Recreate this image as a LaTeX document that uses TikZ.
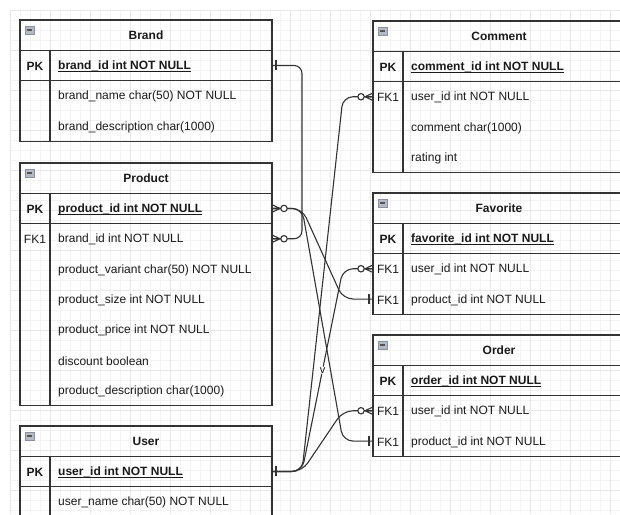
\documentclass[tikz,border=0pt]{standalone}
\usepackage{fontspec}
\setmainfont{Liberation Sans}

\definecolor{ink}{HTML}{333333}
\definecolor{txt}{HTML}{1A1A1A}
\definecolor{gridminor}{HTML}{F3F3F3}
\definecolor{gridmajor}{HTML}{E8E8E8}
\definecolor{iconfill}{HTML}{B4B9C6}
\definecolor{iconedge}{HTML}{8A90A0}
\definecolor{icondash}{HTML}{555555}

% row height of an entity table
\newcommand\erh{30.3}
% underlined primary-key field
\newcommand\ulpk[1]{\setbox0=\hbox{#1}\rlap{\rule[-2pt]{\wd0}{0.9pt}}\box0}

\tikzset{
  tbl/.style={draw=ink, line width=1.2pt},
  tblframe/.style={tbl, minimum width=252pt, inner sep=0pt, outer sep=0pt},
  hdrbox/.style={minimum width=252pt, minimum height=\erh pt, inner sep=0pt, outer sep=0pt,
    font=\fontsize{12}{14}\selectfont\bfseries, text=txt},
  rowbox/.style={minimum width=252pt, minimum height=\erh pt, inner sep=0pt, outer sep=0pt},
  keytxt/.style={inner sep=0pt, text=txt},
  fldtxt/.style={inner sep=0pt, anchor=west, text=txt},
  icon/.style={draw=iconedge, fill=iconfill, line width=0.6pt, minimum width=9pt,
    minimum height=8pt, inner sep=0pt,
    path picture={\draw[line width=1.2pt, draw=icondash]
      ([xshift=1.8pt]path picture bounding box.west) --
      ([xshift=-1.8pt]path picture bounding box.east);}},
  rel/.style={draw=ink, line width=1.1pt, rounded corners=10pt},
  cardline/.style={draw=ink, line width=1.1pt},
  lbl/.style={fill=white, inner sep=0.6pt, text=txt, font=\fontsize{11}{13}\selectfont},
  zmany/.pic={
    \draw[cardline] (0,-3.8) -- (8,0) -- (0,3.8) (0,0) -- (8,0);
    \draw[cardline, fill=white] (12,0) circle[radius=3.2pt];},
  oneline/.pic={\draw[cardline] (4,-5) -- (4,5);}
}

% frame of a table: name, left, top, number of rows (header included)
\newcommand\erframe[4]{%
  \node[tblframe, minimum height=#4*\erh] (#1) at ({#2+126},{#3+#4*\erh/2}) {};}
% header of a table: name, left, top, title
\newcommand\erhead[4]{%
  \node[hdrbox] (#1-h) at ({#2+126},{#3+\erh/2}) {#4};
  \node[icon] (#1-ic) at ({#2+9.5},{#3+10}) {};}
% one row: name, left, top of table, row index, key, field
\newcommand\errow[6]{%
  \node[rowbox] (#1) at ({#2+126},{#3+(#4+0.5)*\erh}) {};
  \node[keytxt] (#1-k) at ({#2+15},{#3+(#4+0.5)*\erh+1}) {#5};
  \node[fldtxt] (#1-f) at ({#2+38},{#3+(#4+0.5)*\erh+1}) {#6};}
% inner rules: table name, key row name
\newcommand\errules[2]{%
  \draw[tbl] (#1-h.south west) -- (#1-h.south east);
  \draw[tbl] (#2.south west) -- (#2.south east);
  \draw[tbl] ([xshift=30pt]#1-h.south west) -- ([xshift=30pt]#1.south west);}

\begin{document}
\begin{tikzpicture}[x=1pt, y=-1pt, font=\fontsize{12}{14}\selectfont]
\useasboundingbox (0,0) rectangle (620,514);
\clip (0,0) rectangle (620,514);
\fill[white] (0,0) rectangle (620,514);

% background grid
\foreach \gx in {10,20,...,620} \draw[gridminor, line width=0.6pt] (\gx,10) -- (\gx,514);
\foreach \gy in {10,20,...,510} \draw[gridminor, line width=0.6pt] (10,\gy) -- (620,\gy);
\foreach \gx in {10,50,...,610} \draw[gridmajor, line width=0.8pt] (\gx,10) -- (\gx,514);
\foreach \gy in {10,50,...,490} \draw[gridmajor, line width=0.8pt] (10,\gy) -- (620,\gy);

% Brand
\erframe{brand}{20}{20}{4}
\erhead{brand}{20}{20}{Brand}
\errow{brand-pk}{20}{20}{1}{\bfseries PK}{\ulpk{\bfseries brand\_id int NOT NULL}}
\errow{brand-name}{20}{20}{2}{}{brand\_name char(50) NOT NULL}
\errow{brand-desc}{20}{20}{3}{}{brand\_description char(1000)}
\errules{brand}{brand-pk}

% Product
\erframe{prod}{20}{163}{8}
\erhead{prod}{20}{163}{Product}
\errow{prod-pk}{20}{163}{1}{\bfseries PK}{\ulpk{\bfseries product\_id int NOT NULL}}
\errow{prod-fk}{20}{163}{2}{FK1}{brand\_id int NOT NULL}
\errow{prod-var}{20}{163}{3}{}{product\_variant char(50) NOT NULL}
\errow{prod-size}{20}{163}{4}{}{product\_size int NOT NULL}
\errow{prod-price}{20}{163}{5}{}{product\_price int NOT NULL}
\errow{prod-disc}{20}{163}{6}{}{discount boolean}
\errow{prod-desc}{20}{163}{7}{}{product\_description char(1000)}
\errules{prod}{prod-pk}

% User
\erframe{user}{20}{426}{3}
\erhead{user}{20}{426}{User}
\errow{user-pk}{20}{426}{1}{\bfseries PK}{\ulpk{\bfseries user\_id int NOT NULL}}
\errow{user-name}{20}{426}{2}{}{user\_name char(50) NOT NULL}
\errules{user}{user-pk}

% Comment
\erframe{com}{373}{21}{5}
\erhead{com}{373}{21}{Comment}
\errow{com-pk}{373}{21}{1}{\bfseries PK}{\ulpk{\bfseries comment\_id int NOT NULL}}
\errow{com-uid}{373}{21}{2}{FK1}{user\_id int NOT NULL}
\errow{com-text}{373}{21}{3}{}{comment char(1000)}
\errow{com-rate}{373}{21}{4}{}{rating int}
\errules{com}{com-pk}

% Favorite
\erframe{fav}{373}{193}{4}
\erhead{fav}{373}{193}{Favorite}
\errow{fav-pk}{373}{193}{1}{\bfseries PK}{\ulpk{\bfseries favorite\_id int NOT NULL}}
\errow{fav-uid}{373}{193}{2}{FK1}{user\_id int NOT NULL}
\errow{fav-pid}{373}{193}{3}{FK1}{product\_id int NOT NULL}
\errules{fav}{fav-pk}

% Order
\erframe{ord}{373}{335}{4}
\erhead{ord}{373}{335}{Order}
\errow{ord-pk}{373}{335}{1}{\bfseries PK}{\ulpk{\bfseries order\_id int NOT NULL}}
\errow{ord-uid}{373}{335}{2}{FK1}{user\_id int NOT NULL}
\errow{ord-pid}{373}{335}{3}{FK1}{product\_id int NOT NULL}
\errules{ord}{ord-pk}

% relationships
\draw[rel, rounded corners=8pt] (brand-pk.east) -- ++(30,0) |- (prod-fk.east);
\draw[rel] (prod-pk.east) -- ++(30,0) -- ([xshift=-30pt]fav-pid.west) -- (fav-pid.west);
\draw[rel] (prod-pk.east) -- ++(30,0) -- ([xshift=-30pt]ord-pid.west) -- (ord-pid.west);
\draw[rel] (user-pk.east) -- ++(30,0) -- ([xshift=-30pt]com-uid.west) -- (com-uid.west);
\draw[rel] (user-pk.east) -- ++(30,0) -- node[lbl] (vlabel) {v} ([xshift=-30pt]fav-uid.west) -- (fav-uid.west);
\draw[rel] (user-pk.east) -- ++(30,0) -- ([xshift=-30pt]ord-uid.west) -- (ord-uid.west);

% cardinality marks
\pic at (brand-pk.east) {oneline};
\pic at (prod-fk.east) {zmany};
\pic at (prod-pk.east) {zmany};
\pic at (user-pk.east) {oneline};
\pic[xscale=-1] at (com-uid.west) {zmany};
\pic[xscale=-1] at (fav-uid.west) {zmany};
\pic[xscale=-1] at (ord-uid.west) {zmany};
\pic[xscale=-1] at (fav-pid.west) {oneline};
\pic[xscale=-1] at (ord-pid.west) {oneline};
\end{tikzpicture}
\end{document}
